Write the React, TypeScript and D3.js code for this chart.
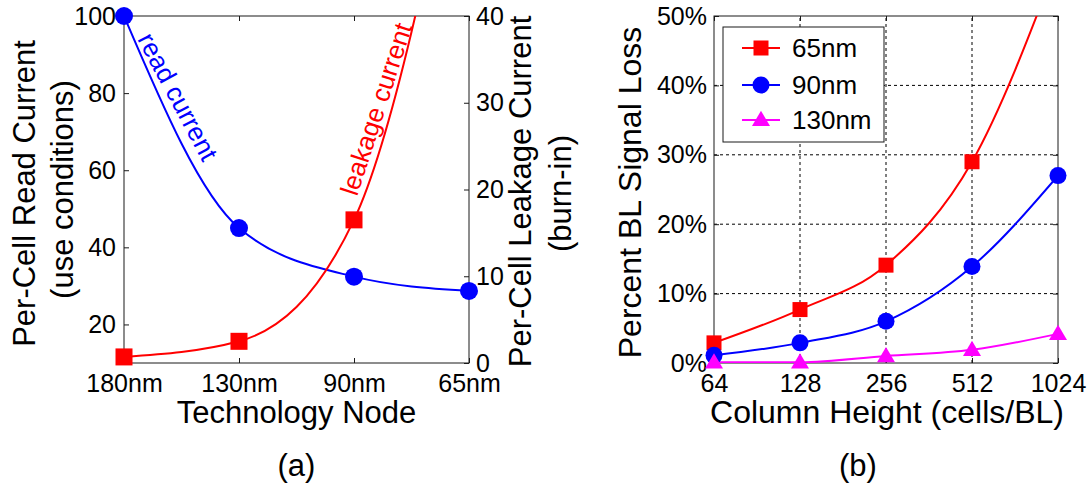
import React, { useEffect, useRef } from "react";
import * as d3 from "d3";

// Panel (a): per-cell currents versus technology node
const techNodes = ["180nm", "130nm", "90nm", "65nm"];
const readCurrent = [100, 45, 32.4, 28.7];
const leakageCurrent = [0.7, 2.5, 16.5, 69];
const readTicks = [20, 40, 60, 80, 100];
const leakTicks = [0, 10, 20, 30, 40];

// Panel (b): bit-line signal loss versus column height
const columnHeights = [64, 128, 256, 512, 1024];
const seriesNames = ["65nm", "90nm", "130nm"];
const loss65nm = [2.9, 7.7, 14.1, 29.0, 58];
const loss90nm = [1.1, 2.9, 6.0, 13.9, 27.0];
const loss130nm = [0.1, 0.1, 1.0, 1.9, 4.2];
const lossTicks = [0, 10, 20, 30, 40, 50];

const W = 1090;
const H = 497;
const FONT = "'Liberation Sans', Arial, Helvetica, sans-serif";
const BLUE = "#0000ff";
const RED = "#ff0000";
const MAGENTA = "#ff00ff";
const AXIS = "#1a1a1a";

type Shape = "square" | "circle" | "triangle";

function drawMarker(
  g: d3.Selection<SVGGElement, unknown, null, undefined>,
  shape: Shape,
  x: number,
  y: number,
  size: number,
  color: string
) {
  if (shape === "square") {
    g.append("rect")
      .attr("x", x - size / 2)
      .attr("y", y - size / 2)
      .attr("width", size)
      .attr("height", size)
      .attr("fill", color);
  } else if (shape === "circle") {
    g.append("circle").attr("cx", x).attr("cy", y).attr("r", size / 2).attr("fill", color);
  } else {
    const w = size;
    const h = size * 0.85;
    g.append("path")
      .attr("d", `M${x},${y - h * 0.6}L${x + w / 2},${y + h * 0.4}L${x - w / 2},${y + h * 0.4}Z`)
      .attr("fill", color);
  }
}

function styleAxis(g: d3.Selection<SVGGElement, unknown, null, undefined>, fontSize: number) {
  g.attr("font-family", FONT).attr("font-size", fontSize);
  g.select(".domain").remove();
  g.selectAll(".tick line").attr("stroke", AXIS);
  g.selectAll(".tick text").attr("fill", "#000");
}

export default function App() {
  const ref = useRef<SVGSVGElement>(null);

  useEffect(() => {
    const svg = d3.select(ref.current);
    svg.selectAll("*").remove();
    const root = svg.append("g");

    const defs = root.append("defs");

    // ---------------- Panel (a) ----------------
    const a = { left: 124, right: 469, top: 16, bottom: 363 };
    const xA = d3.scalePoint<string>().domain(techNodes).range([a.left, a.right]);
    const yRead = d3.scaleLinear().domain([10, 100]).range([a.bottom, a.top]);
    const yLeak = d3.scaleLinear().domain([0, 40]).range([a.bottom, a.top]);

    defs
      .append("clipPath")
      .attr("id", "clip-a")
      .append("rect")
      .attr("x", a.left)
      .attr("y", a.top)
      .attr("width", a.right - a.left)
      .attr("height", a.bottom - a.top);

    const gA = root.append("g");

    const axBottomA = gA
      .append("g")
      .attr("transform", `translate(0,${a.bottom})`)
      .call(d3.axisBottom(xA).tickSize(-5).tickSizeOuter(0).tickPadding(11));
    styleAxis(axBottomA, 25);

    const axTopA = gA
      .append("g")
      .attr("transform", `translate(0,${a.top})`)
      .call(d3.axisTop(xA).tickSize(-5).tickSizeOuter(0).tickFormat(() => ""));
    styleAxis(axTopA, 25);

    const axLeftA = gA
      .append("g")
      .attr("transform", `translate(${a.left},0)`)
      .call(d3.axisLeft(yRead).tickValues(readTicks).tickSize(-5).tickSizeOuter(0).tickPadding(8));
    styleAxis(axLeftA, 25);

    const axRightA = gA
      .append("g")
      .attr("transform", `translate(${a.right},0)`)
      .call(d3.axisRight(yLeak).tickValues(leakTicks).tickSize(-5).tickSizeOuter(0).tickPadding(7));
    styleAxis(axRightA, 25);

    gA.append("rect")
      .attr("x", a.left)
      .attr("y", a.top)
      .attr("width", a.right - a.left)
      .attr("height", a.bottom - a.top)
      .attr("fill", "none")
      .attr("stroke", AXIS)
      .attr("stroke-width", 1);

    const readLine = d3
      .line<number>()
      .x((_, i) => xA(techNodes[i]) as number)
      .y((d) => yRead(d))
      .curve(d3.curveMonotoneX);
    const leakLine = d3
      .line<number>()
      .x((_, i) => xA(techNodes[i]) as number)
      .y((d) => yLeak(d))
      .curve(d3.curveMonotoneX);

    gA.append("path")
      .attr("d", readLine(readCurrent))
      .attr("clip-path", "url(#clip-a)")
      .attr("fill", "none")
      .attr("stroke", BLUE)
      .attr("stroke-width", 2);
    gA.append("path")
      .attr("d", leakLine(leakageCurrent))
      .attr("clip-path", "url(#clip-a)")
      .attr("fill", "none")
      .attr("stroke", RED)
      .attr("stroke-width", 2);

    const mA = gA.append("g");
    readCurrent.forEach((v, i) => {
      drawMarker(mA, "circle", xA(techNodes[i]) as number, yRead(v), 18, BLUE);
    });
    leakageCurrent.forEach((v, i) => {
      if (v <= 40) drawMarker(mA, "square", xA(techNodes[i]) as number, yLeak(v), 17, RED);
    });

    // in-plot curve labels
    gA.append("text")
      .attr("transform", "translate(137,39) rotate(62)")
      .attr("font-family", FONT)
      .attr("font-size", 26)
      .attr("fill", BLUE)
      .text("read current");
    gA.append("text")
      .attr("transform", "translate(357,197) rotate(-72)")
      .attr("font-family", FONT)
      .attr("font-size", 26)
      .attr("fill", RED)
      .text("leakage current");

    // axis titles
    const titleA = 31;
    gA.append("text")
      .attr("x", (a.left + a.right) / 2)
      .attr("y", 423)
      .attr("text-anchor", "middle")
      .attr("font-family", FONT)
      .attr("font-size", titleA)
      .text("Technology Node");
    gA.append("text")
      .attr("transform", `translate(35,${(a.top + a.bottom) / 2 + 4}) rotate(-90)`)
      .attr("text-anchor", "middle")
      .attr("font-family", FONT)
      .attr("font-size", titleA)
      .text("Per-Cell Read Current");
    gA.append("text")
      .attr("transform", `translate(73,${(a.top + a.bottom) / 2}) rotate(-90)`)
      .attr("text-anchor", "middle")
      .attr("font-family", FONT)
      .attr("font-size", titleA)
      .text("(use conditions)");
    gA.append("text")
      .attr("transform", `translate(531,${(a.top + a.bottom) / 2 + 2}) rotate(-90)`)
      .attr("text-anchor", "middle")
      .attr("font-family", FONT)
      .attr("font-size", titleA)
      .text("Per-Cell Leakage Current");
    gA.append("text")
      .attr("transform", `translate(571,${(a.top + a.bottom) / 2 + 4}) rotate(-90)`)
      .attr("text-anchor", "middle")
      .attr("font-family", FONT)
      .attr("font-size", titleA)
      .text("(burn-in)");
    gA.append("text")
      .attr("x", (a.left + a.right) / 2)
      .attr("y", 476)
      .attr("text-anchor", "middle")
      .attr("font-family", FONT)
      .attr("font-size", 31)
      .text("(a)");

    // ---------------- Panel (b) ----------------
    const b = { left: 714, right: 1058, top: 16, bottom: 363 };
    const xB = d3.scaleLog().base(2).domain([64, 1024]).range([b.left, b.right]);
    const yB = d3.scaleLinear().domain([0, 50]).range([b.bottom, b.top]);

    defs
      .append("clipPath")
      .attr("id", "clip-b")
      .append("rect")
      .attr("x", b.left)
      .attr("y", b.top)
      .attr("width", b.right - b.left)
      .attr("height", b.bottom - b.top);

    const gB = root.append("g");

    // dashed grid
    const grid = gB.append("g").attr("stroke", "#000").attr("stroke-width", 1).attr("stroke-dasharray", "3,3");
    columnHeights.slice(1, -1).forEach((c) => {
      grid.append("line").attr("x1", xB(c)).attr("x2", xB(c)).attr("y1", b.bottom).attr("y2", b.top);
    });
    lossTicks.slice(1, -1).forEach((t) => {
      grid.append("line").attr("x1", b.left).attr("x2", b.right).attr("y1", yB(t)).attr("y2", yB(t));
    });

    const axBottomB = gB
      .append("g")
      .attr("transform", `translate(0,${b.bottom})`)
      .call(
        d3
          .axisBottom(xB)
          .tickValues(columnHeights)
          .tickFormat((d) => String(d))
          .tickSize(-5)
          .tickSizeOuter(0)
          .tickPadding(11)
      );
    styleAxis(axBottomB, 25);
    const axTopB = gB
      .append("g")
      .attr("transform", `translate(0,${b.top})`)
      .call(d3.axisTop(xB).tickValues(columnHeights).tickSize(-5).tickSizeOuter(0).tickFormat(() => ""));
    styleAxis(axTopB, 25);
    const axLeftB = gB
      .append("g")
      .attr("transform", `translate(${b.left},0)`)
      .call(
        d3
          .axisLeft(yB)
          .tickValues(lossTicks)
          .tickFormat((d) => `${d}%`)
          .tickSize(-5)
          .tickSizeOuter(0)
          .tickPadding(7)
      );
    styleAxis(axLeftB, 25);
    const axRightB = gB
      .append("g")
      .attr("transform", `translate(${b.right},0)`)
      .call(d3.axisRight(yB).tickValues(lossTicks).tickSize(-5).tickSizeOuter(0).tickFormat(() => ""));
    styleAxis(axRightB, 25);

    gB.append("rect")
      .attr("x", b.left)
      .attr("y", b.top)
      .attr("width", b.right - b.left)
      .attr("height", b.bottom - b.top)
      .attr("fill", "none")
      .attr("stroke", AXIS)
      .attr("stroke-width", 1);

    const lossLine = d3
      .line<number>()
      .x((_, i) => xB(columnHeights[i]))
      .y((d) => yB(d))
      .curve(d3.curveMonotoneX);

    const series: { values: number[]; color: string; shape: Shape; size: number }[] = [
      { values: loss65nm, color: RED, shape: "square", size: 15 },
      { values: loss90nm, color: BLUE, shape: "circle", size: 17 },
      { values: loss130nm, color: MAGENTA, shape: "triangle", size: 18 },
    ];

    series.forEach((s) => {
      gB.append("path")
        .attr("d", lossLine(s.values))
        .attr("clip-path", "url(#clip-b)")
        .attr("fill", "none")
        .attr("stroke", s.color)
        .attr("stroke-width", 2);
    });
    const mB = gB.append("g");
    series.forEach((s) => {
      s.values.forEach((v, i) => {
        if (v <= 50) drawMarker(mB, s.shape, xB(columnHeights[i]), yB(v), s.size, s.color);
      });
    });

    // legend
    const lg = gB.append("g");
    lg.append("rect")
      .attr("x", 723)
      .attr("y", 27)
      .attr("width", 161)
      .attr("height", 115)
      .attr("fill", "#fff")
      .attr("stroke", AXIS)
      .attr("stroke-width", 1);
    const rowY = [48, 85, 120];
    series.forEach((s, i) => {
      lg.append("line")
        .attr("x1", 742)
        .attr("x2", 780)
        .attr("y1", rowY[i])
        .attr("y2", rowY[i])
        .attr("stroke", s.color)
        .attr("stroke-width", 2);
      drawMarker(lg, s.shape, 761, rowY[i], s.size, s.color);
      lg.append("text")
        .attr("x", 792)
        .attr("y", rowY[i] + 9)
        .attr("font-family", FONT)
        .attr("font-size", 26)
        .text(seriesNames[i]);
    });

    const titleB = 32;
    gB.append("text")
      .attr("x", 887)
      .attr("y", 423)
      .attr("text-anchor", "middle")
      .attr("font-family", FONT)
      .attr("font-size", titleB)
      .text("Column Height (cells/BL)");
    gB.append("text")
      .attr("transform", `translate(641,${(b.top + b.bottom) / 2 + 3}) rotate(-90)`)
      .attr("text-anchor", "middle")
      .attr("font-family", FONT)
      .attr("font-size", titleB)
      .text("Percent BL Signal Loss");
    gB.append("text")
      .attr("x", 858)
      .attr("y", 476)
      .attr("text-anchor", "middle")
      .attr("font-family", FONT)
      .attr("font-size", 31)
      .text("(b)");
  }, []);

  return (
    <svg
      ref={ref}
      width={W}
      height={H}
      style={{ position: "absolute", left: 0, top: 0, background: "#fff", display: "block" }}
    />
  );
}
